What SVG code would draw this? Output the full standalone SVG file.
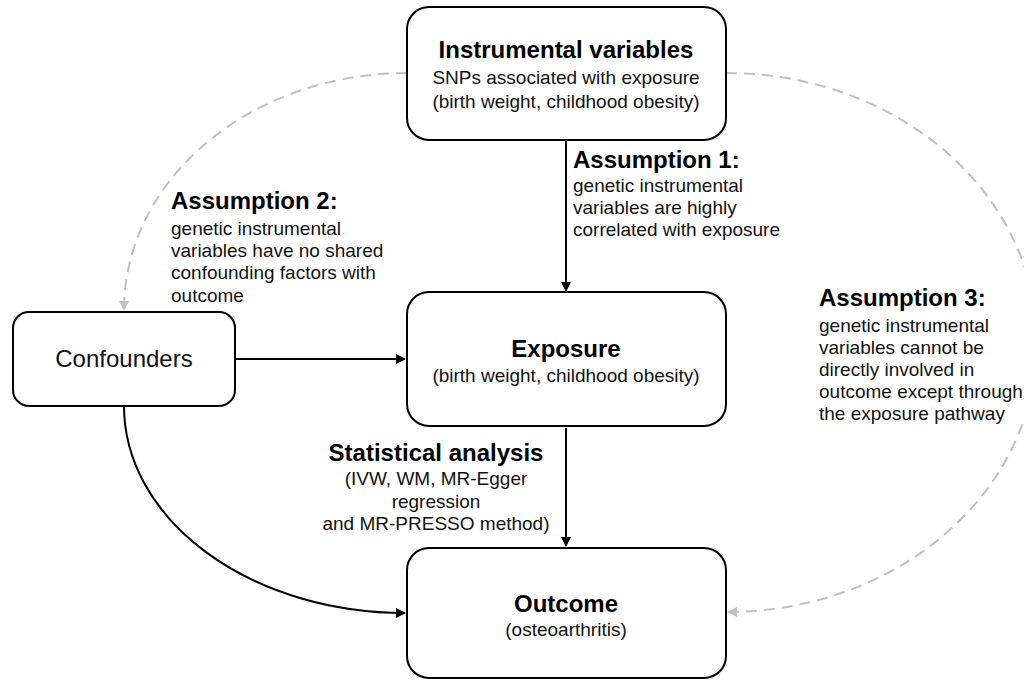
<svg xmlns="http://www.w3.org/2000/svg" width="1024" height="680" viewBox="0 0 1024 680">
<style>
.box{fill:#fff;stroke:#000;stroke-width:2}
.h{font-family:"Liberation Sans",Arial,sans-serif;font-weight:bold;font-size:24px;fill:#000}
.t{font-family:"Liberation Sans",Arial,sans-serif;font-size:19px;fill:#111}
.c{text-anchor:middle}
.solid{fill:none;stroke:#000;stroke-width:2}
.dash{fill:none;stroke:#c0c0c0;stroke-width:2;stroke-dasharray:11 7}
</style>
<defs>
<marker id="ab" markerWidth="10" markerHeight="10" refX="9" refY="5" orient="auto" markerUnits="userSpaceOnUse"><path d="M0,0 L10,5 L0,10 Z" fill="#000"/></marker>
<marker id="ag" markerWidth="10" markerHeight="10" refX="9" refY="5" orient="auto" markerUnits="userSpaceOnUse"><path d="M0,0 L10,5 L0,10 Z" fill="#c0c0c0"/></marker>
</defs>
<rect width="1024" height="680" fill="#fff"/>
<g id="connectors">
<path class="dash" d="M407,73 A283,237 0 0 0 124,310" marker-end="url(#ag)"/>
<path class="dash" d="M726,73 A310,269.5 0 0 1 728,612" marker-end="url(#ag)"/>
<path class="solid" d="M566,140 L566,291" marker-end="url(#ab)"/>
<path class="solid" d="M235,359 L405,359" marker-end="url(#ab)"/>
<path class="solid" d="M566,428 L566,546" marker-end="url(#ab)"/>
<path class="solid" d="M124,406 A281,207 0 0 0 405,613" marker-end="url(#ab)"/>
</g>
<g id="iv">
<rect class="box" x="407" y="7" width="319" height="133" rx="22"/>
<text class="h c" x="566" y="58">Instrumental variables</text>
<text class="t c" x="566" y="84">SNPs associated with exposure</text>
<text class="t c" x="566" y="108">(birth weight, childhood obesity)</text>
</g>
<g id="exposure">
<rect class="box" x="407" y="292" width="319" height="134" rx="22"/>
<text class="h c" x="566" y="357">Exposure</text>
<text class="t c" x="566" y="382">(birth weight, childhood obesity)</text>
</g>
<g id="outcome">
<rect class="box" x="407" y="548" width="319" height="130" rx="22"/>
<text class="h c" x="566" y="612">Outcome</text>
<text class="t c" x="566" y="636">(osteoarthritis)</text>
</g>
<g id="confounders">
<rect class="box" x="13" y="312" width="222" height="94" rx="16"/>
<text class="t c" x="124" y="367" style="font-size:24px">Confounders</text>
</g>
<g id="assumption1">
<text class="h" x="573" y="168">Assumption 1:</text>
<text class="t" x="573" y="192">genetic instrumental</text>
<text class="t" x="573" y="214">variables are highly</text>
<text class="t" x="573" y="236">correlated with exposure</text>
</g>
<g id="assumption2">
<text class="h" x="171" y="209">Assumption 2:</text>
<text class="t" x="171" y="235">genetic instrumental</text>
<text class="t" x="171" y="257">variables have no shared</text>
<text class="t" x="171" y="279">confounding factors with</text>
<text class="t" x="171" y="302">outcome</text>
</g>
<g id="assumption3">
<text class="h" x="819" y="306">Assumption 3:</text>
<text class="t" x="819" y="332">genetic instrumental</text>
<text class="t" x="819" y="354">variables cannot be</text>
<text class="t" x="819" y="376">directly involved in</text>
<text class="t" x="819" y="398">outcome except through</text>
<text class="t" x="819" y="420">the exposure pathway</text>
</g>
<g id="stats">
<text class="h c" x="436" y="461">Statistical analysis</text>
<text class="t c" x="436" y="485">(IVW, WM, MR-Egger</text>
<text class="t c" x="436" y="508">regression</text>
<text class="t c" x="436" y="530">and MR-PRESSO method)</text>
</g>
</svg>
